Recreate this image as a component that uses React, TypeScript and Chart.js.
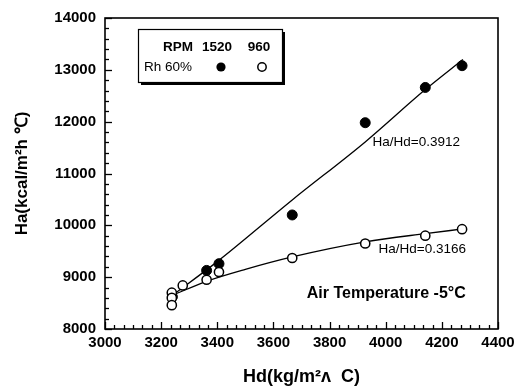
import React, { useEffect, useRef } from "react";
import { Chart, registerables } from "chart.js";

Chart.register(...registerables);

// Measured points
const hd1520 = [3240, 3362, 3406, 3667, 3927, 4141, 4272];
const ha1520 = [8620, 9130, 9260, 10200, 11980, 12660, 13080];
const hd960 = [3238, 3238, 3238, 3277, 3362, 3406, 3667, 3927, 4141, 4272];
const ha960 = [8700, 8600, 8460, 8840, 8950, 9100, 9370, 9650, 9800, 9925];

// Fitted curves
const fitHd1520 = [3240, 3400, 3667, 3927, 4141, 4275];
const fitHa1520 = [8650, 9300, 10490, 11610, 12620, 13200];
const fitHd960 = [3240, 3362, 3500, 3667, 3927, 4141, 4275];
const fitHa960 = [8650, 8920, 9150, 9390, 9680, 9840, 9930];

// Axis ranges
const xMin = 3000;
const xMax = 4400;
const xStep = 200;
const yMin = 8000;
const yMax = 14000;
const yStep = 1000;

// Annotations
const noteTexts = ["Ha/Hd=0.3912", "Ha/Hd=0.3166", "Air Temperature -5°C"];
const noteX = [4109, 4130, 4002];
const noteY = [11595, 9530, 8688];
const noteBold = [false, false, true];

// Legend table
const legendHeader = ["RPM", "1520", "960"];
const legendRowLabel = "Rh 60%";

const FONT = "'Liberation Sans', Arial, sans-serif";

const toXY = (xs: number[], ys: number[]) => xs.map((x, i) => ({ x, y: ys[i] }));

const framePlugin = {
  id: "frame",
  afterDraw(chart: any) {
    const { ctx, chartArea, scales } = chart;
    const { left, right, top, bottom } = chartArea;
    const xs = scales.x;
    const ys = scales.y;
    ctx.save();
    ctx.strokeStyle = "#000";
    ctx.lineWidth = 1.6;
    ctx.strokeRect(left, top, right - left, bottom - top);
    // x ticks (inward)
    ctx.lineWidth = 1.3;
    const nx = Math.round((xMax - xMin) / xStep) * 6;
    for (let i = 0; i <= nx; i++) {
      const v = xMin + (i * xStep) / 6;
      const px = Math.round(xs.getPixelForValue(v)) + 0.5;
      const len = i % 6 === 0 ? 7 : 4;
      ctx.beginPath();
      ctx.moveTo(px, bottom);
      ctx.lineTo(px, bottom - len);
      ctx.stroke();
    }
    const ny = Math.round((yMax - yMin) / yStep) * 5;
    for (let i = 0; i <= ny; i++) {
      const v = yMin + (i * yStep) / 5;
      const py = Math.round(ys.getPixelForValue(v)) + 0.5;
      const len = i % 5 === 0 ? 7 : 4;
      ctx.beginPath();
      ctx.moveTo(left, py);
      ctx.lineTo(left + len, py);
      ctx.stroke();
    }
    // annotations
    ctx.fillStyle = "#000";
    ctx.textAlign = "center";
    ctx.textBaseline = "middle";
    noteTexts.forEach((t, i) => {
      ctx.font = (noteBold[i] ? "bold 16px " : "13.5px ") + FONT;
      ctx.fillText(t, xs.getPixelForValue(noteX[i]), ys.getPixelForValue(noteY[i]));
    });
    // legend box
    const bx = left + 33;
    const by = top + 11;
    const bw = 144;
    const bh = 53;
    ctx.fillStyle = "#000";
    ctx.fillRect(bx + 3, by + 3, bw, bh);
    ctx.fillStyle = "#fff";
    ctx.fillRect(bx, by, bw, bh);
    ctx.lineWidth = 1.2;
    ctx.strokeRect(bx + 0.5, by + 0.5, bw, bh);
    ctx.fillStyle = "#000";
    ctx.font = "bold 13.5px " + FONT;
    const colX = [bx + 40, bx + 79, bx + 121];
    legendHeader.forEach((t, i) => ctx.fillText(t, colX[i], by + 18));
    ctx.font = "13.5px " + FONT;
    ctx.fillText(legendRowLabel, bx + 30, by + 38);
    ctx.beginPath();
    ctx.arc(bx + 83, by + 38, 4.6, 0, Math.PI * 2);
    ctx.fill();
    ctx.beginPath();
    ctx.arc(bx + 124, by + 38, 4.2, 0, Math.PI * 2);
    ctx.fillStyle = "#fff";
    ctx.fill();
    ctx.lineWidth = 1.5;
    ctx.stroke();
    ctx.restore();
  },
};

export default function App() {
  const ref = useRef<HTMLCanvasElement | null>(null);
  useEffect(() => {
    document.body.style.margin = "0";
    const canvas = ref.current;
    if (!canvas) return;
    const chart = new Chart(canvas, {
      type: "scatter",
      data: {
        datasets: [
          {
            label: "960",
            data: toXY(hd960, ha960),
            pointRadius: 4.6,
            pointBackgroundColor: "#fff",
            pointBorderColor: "#000",
            pointBorderWidth: 1.5,
            showLine: false,
            order: 0,
          },
          {
            label: "1520",
            data: toXY(hd1520, ha1520),
            pointRadius: 5,
            pointBackgroundColor: "#000",
            pointBorderColor: "#000",
            pointBorderWidth: 1,
            showLine: false,
            order: 1,
          },
          {
            label: "fit 1520",
            data: toXY(fitHd1520, fitHa1520),
            showLine: true,
            pointRadius: 0,
            borderColor: "#000",
            borderWidth: 1.3,
            cubicInterpolationMode: "monotone",
            order: 2,
          },
          {
            label: "fit 960",
            data: toXY(fitHd960, fitHa960),
            showLine: true,
            pointRadius: 0,
            borderColor: "#000",
            borderWidth: 1.3,
            cubicInterpolationMode: "monotone",
            order: 3,
          },
        ],
      },
      options: {
        animation: false,
        responsive: false,
        maintainAspectRatio: false,
        layout: { padding: { left: 0, top: 15, right: 27, bottom: 0 } },
        plugins: {
          legend: { display: false },
          tooltip: { enabled: false },
        },
        scales: {
          x: {
            type: "linear",
            min: xMin,
            max: xMax,
            afterFit: (s: any) => {
              s.height = 61;
            },
            ticks: {
              stepSize: xStep,
              color: "#000",
              padding: 5,
              maxRotation: 0,
              callback: (v: any) => String(v),
              font: { family: FONT, size: 15, weight: "bold" },
            },
            grid: { display: false, drawTicks: false },
            border: { display: false },
            title: {
              display: true,
              text: "Hd(kg/m²ʌ  C)",
              color: "#000",
              font: { family: FONT, size: 18, weight: "bold" },
              padding: { top: 0, bottom: 2 },
            },
          },
          y: {
            type: "linear",
            min: yMin,
            max: yMax,
            afterFit: (s: any) => {
              s.width = 105;
            },
            ticks: {
              stepSize: yStep,
              color: "#000",
              padding: 9,
              callback: (v: any) => String(v),
              font: { family: FONT, size: 15, weight: "bold" },
            },
            grid: { display: false, drawTicks: false },
            border: { display: false },
            title: {
              display: true,
              text: "Ha(kcal/m²h ℃)",
              color: "#000",
              font: { family: FONT, size: 17, weight: "bold" },
              padding: { top: 12, bottom: 0 },
            },
          },
        },
      },
      plugins: [framePlugin],
    });
    return () => chart.destroy();
  }, []);
  return (
    <div style={{ width: 525, height: 390, background: "#fff" }}>
      <canvas ref={ref} width={525} height={390} style={{ display: "block" }} />
    </div>
  );
}
